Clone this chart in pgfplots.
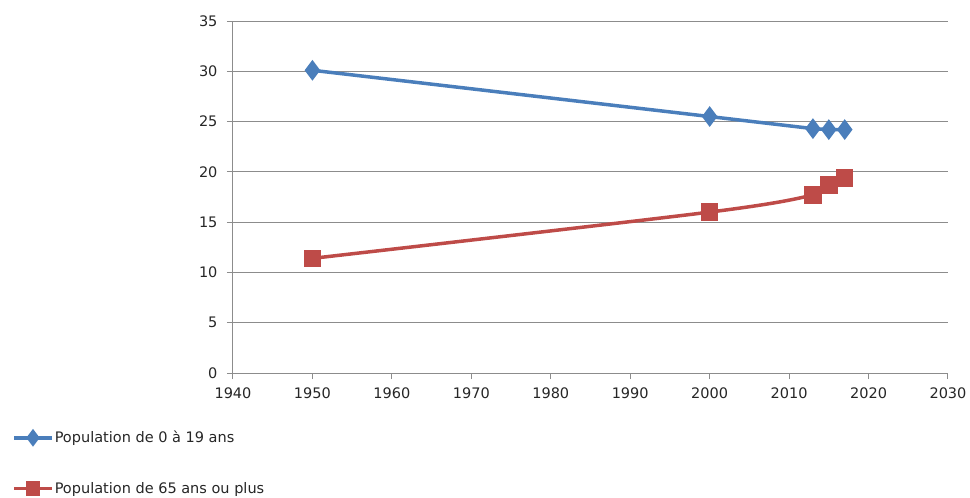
\documentclass[border=0pt]{standalone}
\usepackage{fontspec}
\setmainfont{DejaVu Sans}
\usepackage{pgfplots}
\pgfplotsset{compat=1.18}
\definecolor{serieblue}{HTML}{4A7EBB}
\definecolor{seriered}{HTML}{BE4B48}
\definecolor{gridgrey}{HTML}{8C8C8C}
\definecolor{txt}{HTML}{262626}
\begin{document}
\begin{tikzpicture}[font=\fontsize{14.5}{17}\selectfont, text=txt]
\begin{axis}[
  name=ax,
  scale only axis, width=715pt, height=352pt,
  xmin=1940, xmax=2030, ymin=0, ymax=35,
  xtick distance=10, ytick distance=5,
  axis x line*=bottom, axis y line*=left,
  axis line style={gridgrey, line width=1pt, -},
  ymajorgrids, grid style={gridgrey, line width=1pt},
  tick align=outside, major tick length=6pt,
  tick style={gridgrey, line width=1pt},
  /pgf/number format/assume math mode=true,
  /pgf/number format/1000 sep={},
  xticklabel style={yshift=-5pt},
  yticklabel style={xshift=-6pt},
  clip=false,
  legend cell align=left,
  legend style={draw=none, fill=none, inner sep=0pt,
    at={(-0.309,-0.162)}, anchor=north west,
    row sep=36pt, nodes={inner sep=1pt, text=txt}},
  legend image code/.code={
    \draw[#1, mark repeat=2, mark phase=2, mark options={scale=0.8}]
      plot coordinates {(0pt,0pt) (19pt,0pt) (38pt,0pt)};
  },
]
\addplot[serieblue, line width=3.5pt, mark=diamond*, mark size=7.5pt,
  mark options={solid, fill=serieblue}] coordinates {
  (1950,30.1) (2000,25.5) (2013,24.3) (2015,24.2) (2017,24.2)};
\addlegendentry{Population de 0 à 19 ans}
\addplot[seriered, line width=3.5pt, smooth, mark=square*, mark size=7pt,
  mark options={solid, fill=seriered}] coordinates {
  (1950,11.4) (2000,16.0) (2013,17.7) (2015,18.7) (2017,19.4)};
\addlegendentry{Population de 65 ans ou plus}
\end{axis}
\pgfresetboundingbox
\path (ax.south west) ++(-233pt,-125pt) rectangle ++(970pt,498pt);
\end{tikzpicture}
\end{document}
